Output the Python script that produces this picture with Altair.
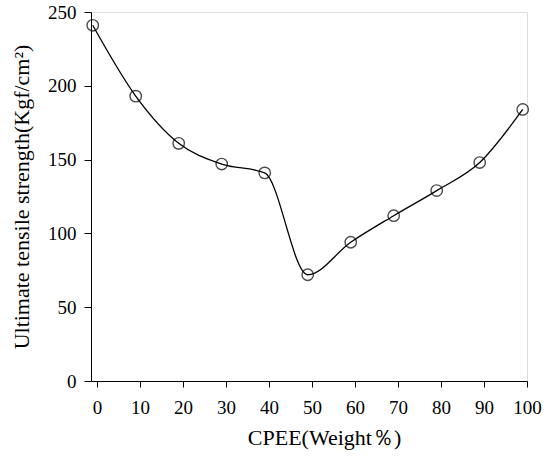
import altair as alt
import pandas as pd

cpee = [-1, 9, 19, 29, 39, 49, 59, 69, 79, 89, 99]
strength = [241, 193, 161, 147, 141, 72, 94, 112, 129, 148, 184]

df = pd.DataFrame({"x": cpee, "y": strength})

FONT = "Liberation Serif"

xenc = alt.X("x:Q", scale=alt.Scale(domain=[-1.4, 100], nice=False, zero=False),
             axis=alt.Axis(title="CPEE(Weight％)", values=list(range(0, 101, 10)),
                           grid=False, domainColor="black", tickColor="black",
                           tickSize=6, labelPadding=11, labelFontSize=19,
                           labelFlush=False,
                           labelFont=FONT, labelColor="black", titleFont=FONT,
                           titleFontSize=22, titleFontWeight="normal",
                           titleColor="black", titlePadding=10, titleX=233))
yenc = alt.Y("y:Q", scale=alt.Scale(domain=[0, 250], nice=False),
             axis=alt.Axis(title="Ultimate tensile strength(Kgf/cm²)",
                           values=list(range(0, 251, 50)), grid=False,
                           domainColor="black", tickColor="black", tickSize=7,
                           labelPadding=8, labelFontSize=19, labelFont=FONT,
                           labelColor="black", titleFont=FONT, titleFontSize=22,
                           titleFontWeight="normal", titleColor="black",
                           titlePadding=14))

line = alt.Chart(df).mark_line(interpolate="monotone", color="black",
                               strokeWidth=1.3).encode(x=xenc, y=yenc)
pts = alt.Chart(df).mark_point(shape="circle", size=130, color="black",
                               strokeWidth=1.4, filled=False).encode(x=xenc, y=yenc)

chart = (line + pts).properties(
    width=436, height=369,
    autosize=alt.AutoSizeParams(type="none"),
    padding={"left": 91, "top": 12, "right": 22, "bottom": 80},
).configure_view(stroke="black", strokeWidth=1.3).configure(background="white")

chart.save("out.html", embed_options={"renderer": "svg", "actions": False})
